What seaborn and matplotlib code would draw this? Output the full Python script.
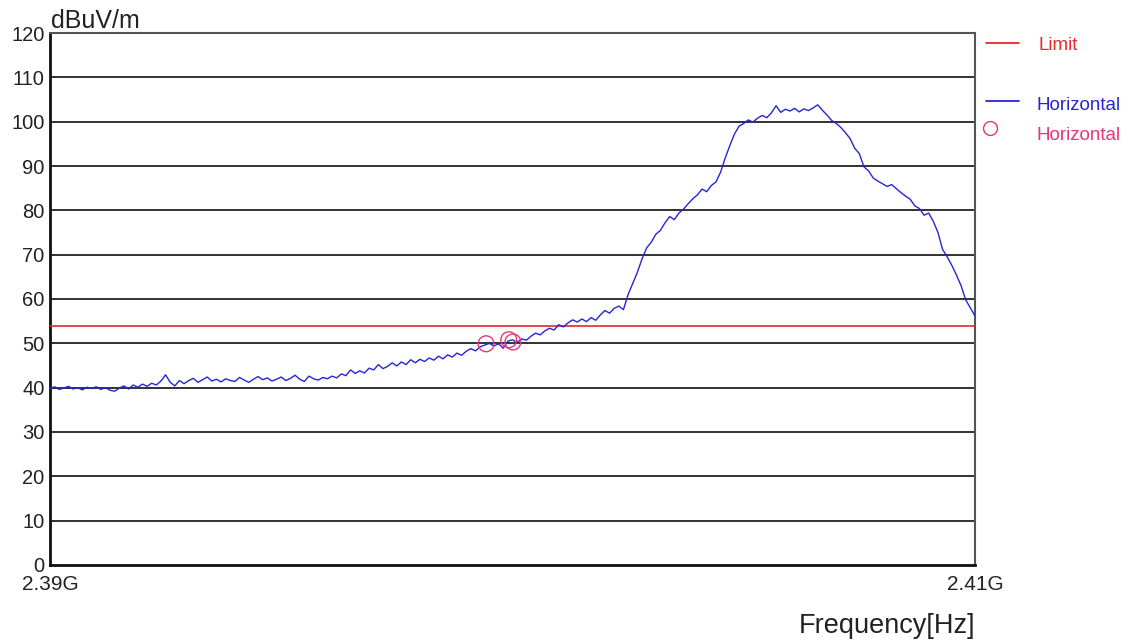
import numpy as np
import pandas as pd
import matplotlib
matplotlib.use("Agg")
import matplotlib.pyplot as plt
from matplotlib.lines import Line2D
import seaborn as sns

# Sweep span (Hz) and measured level of the horizontal-polarisation trace (dBuV/m),
# one reading every 0.1 MHz from 2.39 GHz to 2.41 GHz.
f_start = 2.39e9
f_stop = 2.41e9
level_h = [
    39.8, 40.2, 39.6, 39.9, 40.3, 39.7, 40.0, 39.5, 40.1, 39.8,
    40.2, 39.6, 40.0, 39.4, 39.2, 39.9, 40.4, 39.7, 40.6, 40.1,
    40.8, 40.3, 41.0, 40.6, 41.5, 42.9, 41.2, 40.4, 41.6, 40.9,
    41.6, 42.1, 41.2, 41.8, 42.4, 41.5, 41.9, 41.3, 42.0, 41.6,
    41.4, 42.3, 41.7, 41.2, 41.9, 42.5, 41.8, 42.2, 41.5, 41.9,
    42.4, 41.6, 42.1, 42.8, 41.9, 41.4, 42.6, 42.0, 41.7, 42.3,
    42.0, 42.6, 42.2, 43.1, 42.7, 44.0, 43.2, 43.8, 43.3, 44.4,
    44.0, 45.2, 44.3, 44.8, 45.6, 44.9, 45.8, 45.2, 46.3, 45.6,
    46.4, 45.9, 46.7, 46.2, 47.1, 46.5, 47.4, 46.9, 47.8, 47.3,
    48.2, 48.8, 48.3, 49.2, 49.6, 50.0, 49.4, 49.9, 48.9, 50.5,
    50.8, 50.2, 51.0, 50.7, 51.6, 52.3, 51.9, 52.8, 53.4, 53.0,
    54.2, 53.7, 54.6, 55.3, 54.8, 55.5, 54.9, 55.8, 55.2, 56.4,
    57.4, 56.8, 57.9, 58.4, 57.6, 61.0, 63.5, 66.0, 69.0, 71.5,
    72.8, 74.6, 75.5, 77.2, 78.6, 77.9, 79.4, 80.3, 81.5, 82.6,
    83.5, 84.8, 84.2, 85.6, 86.4, 88.6, 91.8, 94.6, 97.2, 99.0,
    99.6, 100.4, 99.9, 100.8, 101.4, 100.9, 102.0, 103.6, 102.1, 102.8,
    102.4, 103.0, 102.2, 102.9, 102.5, 103.1, 103.8, 102.6, 101.5, 100.3,
    99.6, 98.7, 97.5, 96.2, 94.0, 92.8, 89.8, 88.9, 87.3, 86.6,
    86.0, 85.4, 85.8, 84.9, 84.0, 83.2, 82.5, 81.0, 80.4, 78.9,
    79.4, 77.5, 75.0, 71.2, 69.5, 67.6, 65.4, 63.0, 59.8, 58.0,
    56.2,
]
freq_h = np.linspace(f_start, f_stop, len(level_h))

# Marked peaks (frequency in Hz, level in dBuV/m)
peak_freq = [2.39943e9, 2.39992e9, 2.40001e9]
peak_level = [49.9, 50.8, 50.3]

# Limit line
limit_level = 54.0

y_ticks = list(range(0, 121, 10))
x_ticks = [f_start, f_stop]
x_tick_labels = ["2.39G", "2.41G"]

trace = pd.DataFrame({"freq": freq_h, "level": level_h})
peaks = pd.DataFrame({"freq": peak_freq, "level": peak_level})
limit = pd.DataFrame({"freq": [f_start, f_stop], "level": [limit_level, limit_level]})

sns.set_theme(style="white")
plt.rcParams["font.family"] = ["Liberation Sans", "DejaVu Sans"]

c_limit = "#e8282c"
c_trace = "#2626d4"
c_peak = "#e8357a"

fig = plt.figure(figsize=(11.33, 6.41), dpi=100)
ax = fig.add_axes([0.0441, 0.1186, 0.8164, 0.8299])

sns.lineplot(data=limit, x="freq", y="level", ax=ax, color=c_limit, lw=1.2, zorder=3)
sns.lineplot(data=trace, x="freq", y="level", ax=ax, color=c_trace, lw=1.0, zorder=4)
sns.scatterplot(data=peaks, x="freq", y="level", ax=ax, marker="o", s=130,
                facecolor="none", edgecolor=c_peak, linewidth=1.0, zorder=5)

ax.set_xlim(f_start, f_stop)
ax.set_ylim(0, 120)
ax.set_yticks(y_ticks)
ax.set_yticklabels([str(v) for v in y_ticks], fontsize=14.5, color="#222222")
ax.set_xticks(x_ticks)
ax.set_xticklabels(x_tick_labels, fontsize=15, color="#222222")
ax.tick_params(axis="both", length=0, pad=4)
ax.tick_params(axis="x", pad=7)
ax.set_xlabel("")
ax.set_ylabel("")

for v in y_ticks[1:]:
    ax.axhline(v, color="#222222", lw=1.3, zorder=1)

for side in ["left", "bottom"]:
    ax.spines[side].set_color("#111111")
    ax.spines[side].set_linewidth(2.0)
for side in ["right", "top"]:
    ax.spines[side].set_color("#555555")
    ax.spines[side].set_linewidth(1.5)

fig.text(0.045, 0.957, "dBuV/m", fontsize=18, color="#222222", ha="left", va="baseline")
fig.text(0.861, 0.012, "Frequency[Hz]", fontsize=19.5, color="#222222", ha="right", va="baseline")

# Legend drawn at the right margin
def legend_line(y, color):
    fig.add_artist(Line2D([0.870, 0.899], [y, y], transform=fig.transFigure,
                          color=color, lw=1.3))

legend_line(0.933, c_limit)
fig.text(0.917, 0.929, "Limit", fontsize=13.5, color=c_limit, ha="left", va="center")
legend_line(0.843, c_trace)
fig.text(0.915, 0.836, "Horizontal", fontsize=13.5, color=c_trace, ha="left", va="center")
fig.add_artist(Line2D([0.874], [0.800], transform=fig.transFigure, marker="o",
                      markersize=10, markerfacecolor="none", markeredgecolor=c_peak,
                      markeredgewidth=1.0, linestyle="none"))
fig.text(0.915, 0.788, "Horizontal", fontsize=13.5, color=c_peak, ha="left", va="center")

fig.savefig("out.png", dpi=100, facecolor="white")
